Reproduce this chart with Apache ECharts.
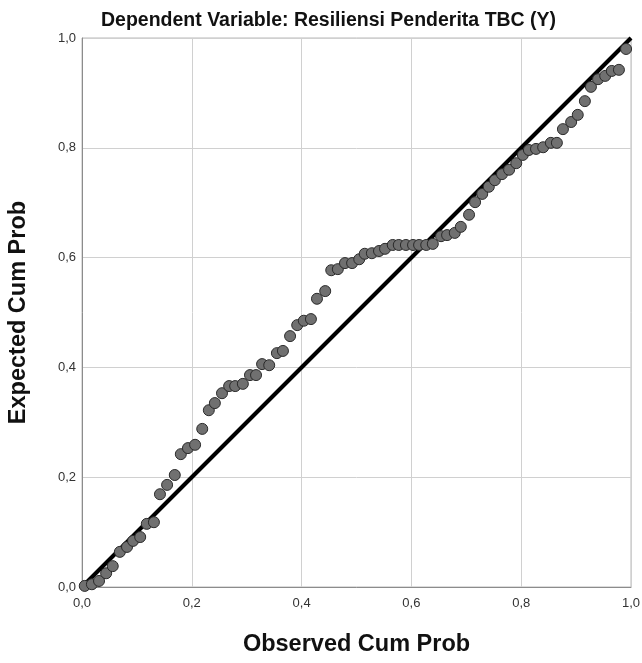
<!DOCTYPE html>
<html><head><meta charset="utf-8">
<script src="https://cdn.jsdelivr.net/npm/echarts@6/dist/echarts.min.js"></script>
<style>html,body{margin:0;padding:0;background:#fff}#c{width:642px;height:663px}</style>
</head><body><div id="c"></div>
<script>
const titleText = "Dependent Variable: Resiliensi Penderita TBC (Y)";
const xName = "Observed Cum Prob";
const yName = "Expected Cum Prob";
const tickValues = [0, 0.2, 0.4, 0.6, 0.8, 1.0];
const observed = [0.005,0.018,0.031,0.044,0.056,0.069,0.082,0.093,0.106,0.118,
0.131,0.142,0.155,0.169,0.180,0.193,0.206,0.219,0.231,0.242,
0.255,0.268,0.279,0.293,0.306,0.317,0.328,0.341,0.355,0.366,
0.379,0.392,0.404,0.417,0.428,0.443,0.454,0.466,0.479,0.492,
0.505,0.515,0.528,0.541,0.552,0.566,0.577,0.590,0.603,0.614,
0.627,0.639,0.654,0.665,0.679,0.690,0.705,0.716,0.729,0.741,
0.752,0.765,0.778,0.791,0.803,0.814,0.827,0.840,0.854,0.865,
0.876,0.891,0.903,0.916,0.927,0.940,0.953,0.965,0.978,0.991];
const expected = [0.002,0.005,0.011,0.025,0.038,0.064,0.073,0.084,0.091,0.115,
0.118,0.169,0.186,0.204,0.242,0.253,0.259,0.288,0.322,0.335,
0.353,0.366,0.366,0.370,0.386,0.386,0.406,0.404,0.426,0.430,
0.457,0.477,0.485,0.488,0.525,0.539,0.577,0.579,0.590,0.590,
0.597,0.607,0.608,0.612,0.616,0.623,0.623,0.623,0.623,0.623,
0.623,0.625,0.639,0.641,0.645,0.656,0.678,0.701,0.716,0.729,
0.741,0.752,0.760,0.772,0.787,0.796,0.798,0.801,0.809,0.809,
0.834,0.847,0.860,0.885,0.911,0.925,0.931,0.940,0.942,0.980];
const refLine = [[0,0],[1,1]];

const points = observed.map((x,i)=>[x, expected[i]]);
const fmt = v => v.toFixed(1).replace('.', ',');
const font = "'Liberation Sans', Arial, sans-serif";
const chart = echarts.init(document.getElementById('c'), null, {renderer:'canvas'});
const axisCommon = {
  type:'value', min:0, max:1, interval:0.2,
  axisLine:{show:true, lineStyle:{color:'#8c8c8c', width:1}},
  axisTick:{show:false},
  splitLine:{show:true, lineStyle:{color:'#d0d0d0', width:1}},
  axisLabel:{formatter:fmt, color:'#333', fontSize:13, fontFamily:font},
  nameLocation:'middle',
  nameTextStyle:{fontSize:23.5, fontWeight:'bold', color:'#111', fontFamily:font}
};
chart.setOption({
  animation:false,
  title:{text:titleText, left:96, top:6,
    textStyle:{fontSize:19.5, fontWeight:'bold', color:'#111', fontFamily:font}},
  grid:{left:82, top:38, width:549, height:549, show:true, borderColor:'#b8b8b8', borderWidth:1,
    containLabel:false, outerBoundsMode:'none'},
  xAxis:Object.assign({}, axisCommon, {name:xName, nameGap:46,
    axisLabel:Object.assign({}, axisCommon.axisLabel, {margin:10})}),
  yAxis:Object.assign({}, axisCommon, {name:yName, nameGap:51,
    axisLabel:Object.assign({}, axisCommon.axisLabel, {margin:6})}),
  series:[
    {type:'line', data:refLine, symbol:'none', lineStyle:{color:'#000', width:4}, z:3},
    {type:'scatter', data:points, symbol:'circle', symbolSize:11,
      itemStyle:{color:'#707070', borderColor:'#2a2a2a', borderWidth:1, opacity:1}, z:4}
  ]
});
</script></body></html>
